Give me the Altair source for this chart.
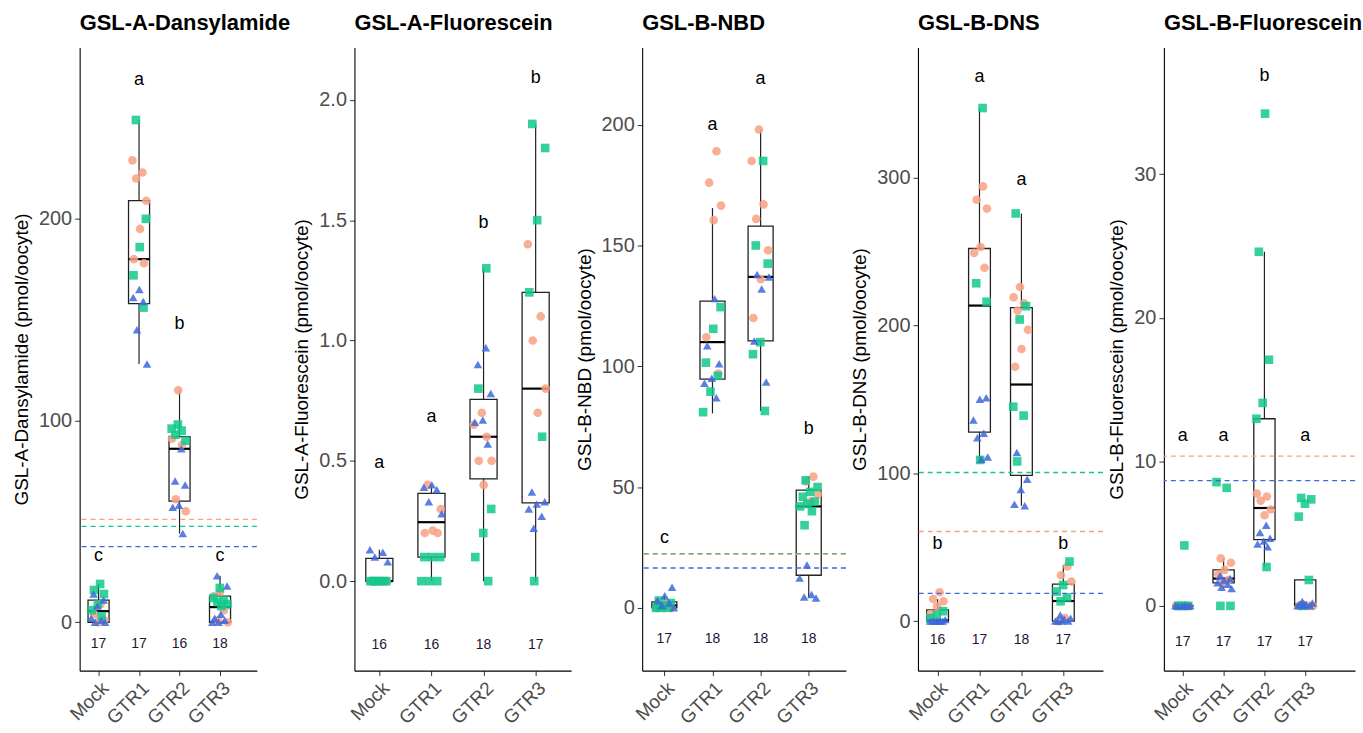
import altair as alt
import pandas as pd

GROUPS = ["Mock", "GTR1", "GTR2", "GTR3"]
SERIES = ["circle", "square", "triangle"]
SERIES_COLORS = ["#F8A084", "#10C98A", "#3E68DA"]
SERIES_SHAPES = ["circle", "square", "triangle-up"]

TITLES = ["GSL-A-Dansylamide", "GSL-A-Fluorescein", "GSL-B-NBD", "GSL-B-DNS", "GSL-B-Fluorescein"]
Y_TITLES = ["GSL-A-Dansylamide (pmol/oocyte)", "GSL-A-Fluorescein (pmol/oocyte)",
            "GSL-B-NBD (pmol/oocyte)", "GSL-B-DNS (pmol/oocyte)", "GSL-B-Fluorescein (pmol/oocyte)"]

# ---------------- Panel 1: GSL-A-Dansylamide ----------------
P1_CIRCLE = [[9, 4, 1, 0], [229, 223, 220, 209, 195, 180, 178], [115, 91, 88, 61, 55], [15, 13, 6, 1, 0]]
P1_SQUARE = [[19, 16, 14, 9, 6, 3], [249, 200, 186, 172, 156], [98, 96, 95, 93, 90], [17, 12, 11, 10, 9, 8]]
P1_TRIANGLE = [[14, 11, 8, 2, 1, 0, 0], [165, 161, 159, 145, 128], [86, 70, 68, 58, 57, 44], [23, 18, 4, 2, 1, 0, 0]]
P1_Q1 = [0, 158, 60, 0]
P1_MED = [5.5, 180, 86, 7.5]
P1_Q3 = [11, 209, 92, 13]
P1_LO = [0, 128, 44, 0]
P1_HI = [19, 249, 115, 23]
P1_LETTERS = ["c", "a", "b", "c"]
P1_LETTER_Y = [33, 269, 148, 33]
P1_N = [17, 17, 16, 18]
P1_N_Y = -11
P1_REF_SERIES = ["circle", "square", "triangle"]
P1_REF_VALUE = [51, 47.5, 37.5]
P1_Y_TICKS = [0, 100, 200]
P1_Y_DOMAIN = [-24, 285]

# ---------------- Panel 2: GSL-A-Fluorescein ----------------
P2_CIRCLE = [[0, 0, 0, 0, 0, 0], [0.40, 0.30, 0.21, 0.20, 0.20], [0.70, 0.65, 0.60, 0.50, 0.50, 0.40], [1.40, 1.10, 1.00, 0.80, 0.70]]
P2_SQUARE = [[0, 0, 0, 0, 0, 0], [0.10, 0.10, 0.10, 0, 0, 0], [1.30, 0.80, 0.30, 0.20, 0.10, 0], [1.90, 1.80, 1.50, 1.20, 0.60, 0]]
P2_TRIANGLE = [[0.13, 0.12, 0.10, 0.08], [0.40, 0.39, 0.38, 0.33, 0.28], [0.97, 0.90, 0.78, 0.67, 0.66, 0.57], [0.37, 0.33, 0.32, 0.30, 0.27, 0.22]]
P2_Q1 = [0, 0.10, 0.425, 0.325]
P2_MED = [0, 0.245, 0.60, 0.80]
P2_Q3 = [0.095, 0.365, 0.755, 1.20]
P2_LO = [0, 0, 0, 0]
P2_HI = [0.13, 0.40, 1.30, 1.90]
P2_LETTERS = ["a", "a", "b", "b"]
P2_LETTER_Y = [0.49, 0.68, 1.49, 2.09]
P2_N = [16, 16, 18, 17]
P2_N_Y = -0.265
P2_REF_SERIES = []
P2_REF_VALUE = []
P2_Y_TICKS = [0, 0.5, 1.0, 1.5, 2.0]
P2_Y_DOMAIN = [-0.372, 2.218]

# ---------------- Panel 3: GSL-B-NBD ----------------
P3_CIRCLE = [[2, 1, 0, 0, 0], [189, 176, 166.5, 160.5, 112, 97], [198, 185, 167, 161, 148, 136, 120], [54.3, 52.3, 47, 44]]
P3_SQUARE = [[3, 2, 1, 0, 0, 0], [124.5, 115.5, 101.5, 96, 89.5, 81], [185, 150, 142.5, 110, 105, 81.5], [52.8, 50, 48, 46, 44, 43, 42, 40, 34.2]]
P3_TRIANGLE = [[8.5, 5, 3, 2, 1, 0], [128, 108.5, 101, 95, 93, 87], [138, 137, 132, 110.5, 93.5], [17.7, 12.3, 5.5, 4.5, 4.1]]
P3_Q1 = [0, 94.7, 110.5, 13.5]
P3_MED = [1, 110, 137, 42]
P3_Q3 = [2.5, 127, 158, 48.7]
P3_LO = [0, 80.5, 81.5, 4.1]
P3_HI = [5, 165.5, 198, 54.3]
P3_LETTERS = ["c", "a", "a", "b"]
P3_LETTER_Y = [28.8, 200, 219, 74]
P3_N = [17, 18, 18, 18]
P3_N_Y = -13
P3_REF_SERIES = ["square", "circle", "triangle"]
P3_REF_VALUE = [22.4, 22.1, 16.5]
P3_Y_TICKS = [0, 50, 100, 150, 200]
P3_Y_DOMAIN = [-26, 232]

# ---------------- Panel 4: GSL-B-DNS ----------------
P4_CIRCLE = [[19.5, 15, 13.4, 10, 5], [294, 285, 279, 253, 249, 239], [226, 219, 215, 210, 197, 184, 172], [37, 31, 26.8, 2, 0]]
P4_SQUARE = [[6.7, 4, 2], [347, 228.5, 216, 109], [275.7, 213, 204, 145, 139, 108], [40.3, 24.4, 20, 16, 13.4]]
P4_TRIANGLE = [[1, 0, 0, 0, 0, 0, 0, 0], [151, 150, 136, 127, 124, 111, 109.5], [114, 96, 89, 79, 78], [4.2, 2, 1.3, 0, 0, 0, 0]]
P4_Q1 = [0, 127.8, 98.6, 0]
P4_MED = [0.5, 213.4, 160, 13.6]
P4_Q3 = [7.6, 252, 212, 25]
P4_LO = [0, 109, 78, 0]
P4_HI = [15, 347, 275.7, 38]
P4_LETTERS = ["b", "a", "a", "b"]
P4_LETTER_Y = [52.3, 368, 298, 52.3]
P4_N = [16, 17, 18, 17]
P4_N_Y = -13
P4_REF_SERIES = ["square", "circle", "triangle"]
P4_REF_VALUE = [100.5, 60.6, 18.8]
P4_Y_TICKS = [0, 100, 200, 300]
P4_Y_DOMAIN = [-33.5, 388]

# ---------------- Panel 5: GSL-B-Fluorescein ----------------
P5_CIRCLE = [[0, 0, 0, 0, 0, 0], [3.3, 3.0, 2.5, 2.2, 1.8, 1.6], [7.8, 7.6, 7.3, 6.7, 6.3], [0, 0, 0.1, 0]]
P5_SQUARE = [[4.2, 0, 0, 0], [8.6, 8.2, 0, 0], [34.2, 24.6, 17.1, 14.1, 13.0, 2.7], [7.5, 7.4, 7.1, 6.2, 1.8, 0]]
P5_TRIANGLE = [[0, 0, 0, 0, 0, 0, 0], [2.1, 1.9, 1.8, 1.6, 1.5, 1.3, 1.2], [5.6, 5.1, 4.7, 4.5, 4.3, 4.1], [0.3, 0.2, 0.1, 0.1, 0, 0, 0]]
P5_Q1 = [0, 1.6, 4.6, 0]
P5_MED = [0, 1.9, 6.8, 0.1]
P5_Q3 = [0, 2.5, 13.0, 1.8]
P5_LO = [0, 1.2, 2.7, 0]
P5_HI = [0, 3.3, 24.6, 1.8]
P5_LETTERS = ["a", "a", "b", "a"]
P5_LETTER_Y = [11.8, 11.8, 36.8, 11.8]
P5_N = [17, 17, 17, 17]
P5_N_Y = -2.5
P5_REF_SERIES = ["circle", "triangle"]
P5_REF_VALUE = [10.4, 8.7]
P5_Y_TICKS = [0, 10, 20, 30]
P5_Y_DOMAIN = [-4.5, 38.8]

PANELS = [
    (P1_CIRCLE, P1_SQUARE, P1_TRIANGLE, P1_Q1, P1_MED, P1_Q3, P1_LO, P1_HI, P1_LETTERS, P1_LETTER_Y, P1_N, P1_N_Y, P1_REF_SERIES, P1_REF_VALUE, P1_Y_TICKS, P1_Y_DOMAIN, None),
    (P2_CIRCLE, P2_SQUARE, P2_TRIANGLE, P2_Q1, P2_MED, P2_Q3, P2_LO, P2_HI, P2_LETTERS, P2_LETTER_Y, P2_N, P2_N_Y, P2_REF_SERIES, P2_REF_VALUE, P2_Y_TICKS, P2_Y_DOMAIN, ".1f"),
    (P3_CIRCLE, P3_SQUARE, P3_TRIANGLE, P3_Q1, P3_MED, P3_Q3, P3_LO, P3_HI, P3_LETTERS, P3_LETTER_Y, P3_N, P3_N_Y, P3_REF_SERIES, P3_REF_VALUE, P3_Y_TICKS, P3_Y_DOMAIN, None),
    (P4_CIRCLE, P4_SQUARE, P4_TRIANGLE, P4_Q1, P4_MED, P4_Q3, P4_LO, P4_HI, P4_LETTERS, P4_LETTER_Y, P4_N, P4_N_Y, P4_REF_SERIES, P4_REF_VALUE, P4_Y_TICKS, P4_Y_DOMAIN, None),
    (P5_CIRCLE, P5_SQUARE, P5_TRIANGLE, P5_Q1, P5_MED, P5_Q3, P5_LO, P5_HI, P5_LETTERS, P5_LETTER_Y, P5_N, P5_N_Y, P5_REF_SERIES, P5_REF_VALUE, P5_Y_TICKS, P5_Y_DOMAIN, None),
]

# layout (pixels / axis-space), not data
PANEL_WIDTHS = [178, 217.6, 204.6, 185.8, 192]
X_DOMAINS = [[0.533, 4.91], [0.522, 4.68], [0.539, 4.772], [0.532, 4.945], [0.537, 5.22]]
PLOT_HEIGHT = 626
BOX_HALF = 0.26
FONT = "Liberation Sans, Arial, sans-serif"

LABEL_EXPR = "['Mock','GTR1','GTR2','GTR3'][datum.value - 1]"


def make_panel(k):
    (circ, sq, tri, q1, med, q3, lo, hi, letters, ly, ns, ny,
     ref_s, ref_v, yticks, ydom, yfmt) = PANELS[k]

    rows = []
    for s, lists in zip(SERIES, [circ, sq, tri]):
        for gi, vals in enumerate(lists):
            for v in vals:
                rows.append({"group": GROUPS[gi], "pos": gi + 1, "series": s, "value": v})
    pts = pd.DataFrame(rows)

    box = pd.DataFrame({
        "group": GROUPS, "pos": [1, 2, 3, 4],
        "q1": q1, "med": med, "q3": q3, "lo": lo, "hi": hi,
        "letter": letters, "ly": ly, "n": [str(n) for n in ns], "ny": [ny] * 4,
    })

    xs = alt.Scale(domain=X_DOMAINS[k], nice=False, zero=False)
    ys = alt.Scale(domain=ydom, nice=False, zero=False)
    xaxis = alt.Axis(values=[1, 2, 3, 4], labelExpr=LABEL_EXPR, labelAngle=-45,
                     labelAlign="right", labelBaseline="top", title=None, grid=False,
                     labelFontSize=19, labelPadding=3, tickSize=5, labelOverlap=False,
                     domainColor="black", domainWidth=1.1, tickColor="#333333",
                     labelColor="#4D4D4D", labelFont=FONT)
    yaxis_kw = dict(values=yticks, title=Y_TITLES[k], grid=False, labelFontSize=20,
                    labelPadding=3, tickSize=5, titleFontSize=19, titleFontWeight="normal",
                    titlePadding=7, labelOverlap=False, domainColor="black", domainWidth=1.1,
                    tickColor="#333333", labelColor="#4D4D4D", titleColor="black",
                    labelFont=FONT, titleFont=FONT)
    if yfmt:
        yaxis_kw["format"] = yfmt
    yaxis = alt.Axis(**yaxis_kw)

    def X(f):
        return alt.X(f, type="quantitative", scale=xs, axis=xaxis)

    def Y(f):
        return alt.Y(f, type="quantitative", scale=ys, axis=yaxis)

    color = alt.Color("series:N", scale=alt.Scale(domain=SERIES, range=SERIES_COLORS), legend=None)
    shape = alt.Shape("series:N", scale=alt.Scale(domain=SERIES, range=SERIES_SHAPES), legend=None)

    base_box = alt.Chart(box)
    whisk = base_box.mark_rule(color="#222222", strokeWidth=1.2).encode(
        x=X("pos"), y=Y("lo"), y2="hi")
    rect = base_box.mark_rect(fill="white", stroke="#222222", strokeWidth=1.3).transform_calculate(
        xl=f"datum.pos - {BOX_HALF}", xr=f"datum.pos + {BOX_HALF}").encode(
        x=X("xl"), x2="xr", y=Y("q1"), y2="q3")
    medl = base_box.mark_rule(color="black", strokeWidth=2.2).transform_calculate(
        xl=f"datum.pos - {BOX_HALF}", xr=f"datum.pos + {BOX_HALF}").encode(
        x=X("xl"), x2="xr", y=Y("med"))

    points = alt.Chart(pts).mark_point(filled=True, size=75, opacity=0.85).transform_window(
        k="row_number()").transform_calculate(
        xj="datum.pos + ((datum.k * 0.6180339887) % 1 - 0.5) * 0.4").encode(
        x=X("xj"), y=Y("value"), color=color, shape=shape)

    letters_l = base_box.mark_text(fontSize=18, color="black", font=FONT, baseline="middle").encode(
        x=X("pos"), y=Y("ly"), text="letter:N")
    counts_l = base_box.mark_text(fontSize=14, color="#1E1633", font=FONT, baseline="middle").encode(
        x=X("pos"), y=Y("ny"), text="n:N")

    layers = [whisk, rect, medl, points]
    if ref_v:
        refs = pd.DataFrame({"series": ref_s, "value": ref_v})
        dashed = alt.Chart(refs).mark_rule(strokeDash=[5, 4], strokeWidth=1.3).encode(
            y=Y("value"), color=color)
        layers.append(dashed)
    layers += [letters_l, counts_l]

    return alt.layer(*layers).properties(
        width=PANEL_WIDTHS[k], height=PLOT_HEIGHT,
        view=alt.ViewBackground(stroke="transparent", strokeWidth=0),
        title=alt.TitleParams(TITLES[k], anchor="start", frame="group", fontSize=22,
                              fontWeight="bold", color="black", offset=12, font=FONT),
    )


charts = [make_panel(k) for k in range(5)]
chart = alt.hconcat(charts[0], alt.hconcat(*charts[1:], spacing=3), spacing=2).properties(
    padding={"left": 12, "top": 11, "right": 0, "bottom": 0},
    background="white",
).configure_view(stroke="transparent", strokeWidth=0)

chart.save("out.html", embed_options={"renderer": "svg", "actions": False})
